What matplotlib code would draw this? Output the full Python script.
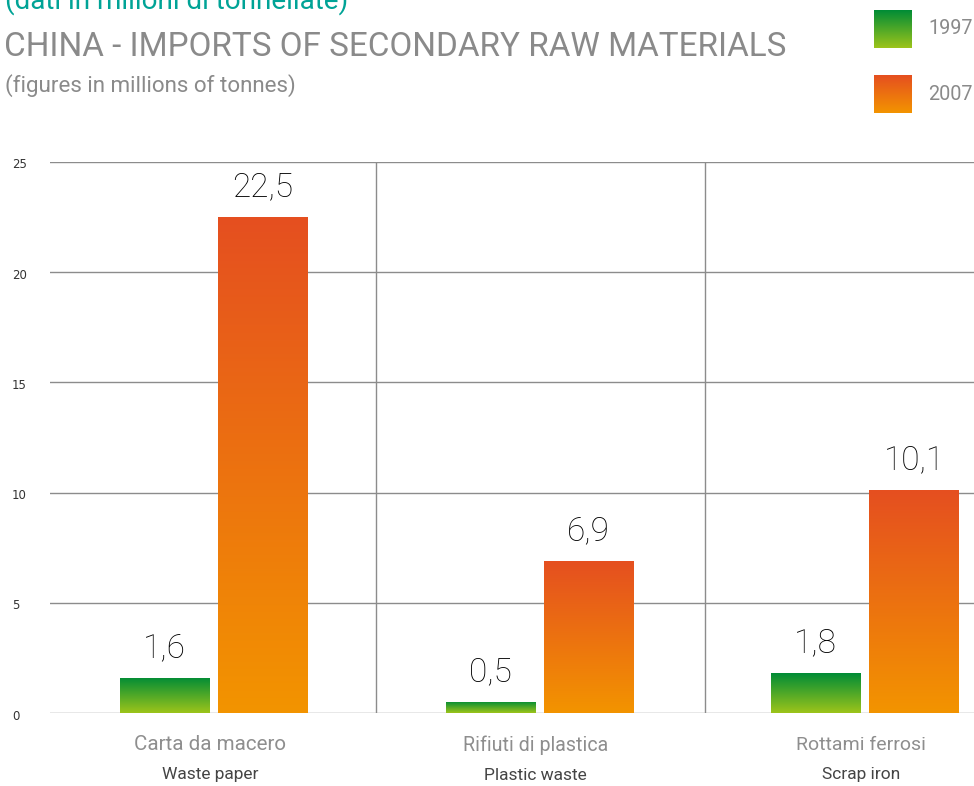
import numpy as np
import matplotlib
matplotlib.use("Agg")
import matplotlib.pyplot as plt
from matplotlib.colors import LinearSegmentedColormap

# Data (millions of tonnes)
categories_it = ["Carta da macero", "Rifiuti di plastica", "Rottami ferrosi"]
categories_en = ["Waste paper", "Plastic waste", "Scrap iron"]
years = ["1997", "2007"]
values_1997 = [1.6, 0.5, 1.8]
values_2007 = [22.5, 6.9, 10.1]
y_ticks = [0, 5, 10, 15, 20, 25]

SANS = ["Roboto", "DejaVu Sans"]

green_cmap = LinearSegmentedColormap.from_list("g", ["#9dc41a", "#008c36"])
orange_cmap = LinearSegmentedColormap.from_list("o", ["#f39400", "#e54f20"])
gradient = np.linspace(0, 1, 256).reshape(-1, 1)

W, H = 974, 786
fig = plt.figure(figsize=(W / 100, H / 100), dpi=100)
renderer = fig.canvas.get_renderer()
ax = fig.add_axes([50 / W, 1 - 713 / H, 1 - 50 / W, (713 - 162) / H])


def fit_width(txt, target_px):
    """Scale a text's font size so that its rendered width is target_px."""
    w = txt.get_window_extent(renderer=renderer).width
    txt.set_fontsize(txt.get_fontsize() * target_px / w)
    return txt


x = np.arange(len(categories_it))
width = 0.274
offset = 0.151


def gradient_bars(xpos, vals, cmap):
    bars = ax.bar(xpos, vals, width=width, color="none", edgecolor="none", zorder=3)
    for b in bars:
        x0, y0 = b.get_x(), b.get_y()
        im = ax.imshow(gradient, cmap=cmap, origin="lower", aspect="auto",
                       extent=[x0, x0 + b.get_width(), y0, y0 + b.get_height()],
                       zorder=3, interpolation="bilinear")
        im.set_clip_path(b)
    return bars


gradient_bars(x - offset, values_1997, green_cmap)
gradient_bars(x + offset, values_2007, orange_cmap)

ax.set_xlim(-0.503, 2.335)
ax.set_ylim(0, 25)

for xi, v in list(zip(x - offset, values_1997)) + list(zip(x + offset, values_2007)):
    ax.annotate(f"{v:.1f}".replace(".", ","), (xi, v), xytext=(0, 30),
                textcoords="offset pixels", ha="center", va="center",
                fontsize=24, color="#000000", family=SANS, weight="light")

for t in y_ticks:
    ax.axhline(t, color="#8c8c8c", lw=1.0, zorder=1)
for sep in [0.497, 1.510]:
    ax.axvline(sep, color="#8c8c8c", lw=1.0, zorder=1)

for s in ax.spines.values():
    s.set_visible(False)
ax.set_xticks([])
ax.set_yticks([])

# y tick labels
for t in y_ticks:
    ax.annotate(str(t), (0, t), xycoords=("figure pixels", "data"),
                xytext=(12, -3), textcoords="offset pixels",
                ha="left", va="center", fontsize=8.5, color="#333333",
                family=["DejaVu Sans"])

# category labels
it_widths = [152, 146, 130]
for xi, it, en, wi in zip(x, categories_it, categories_en, it_widths):
    a = ax.annotate(it, (xi, 0), xytext=(-4, -32), textcoords="offset pixels",
                    ha="center", va="center", fontsize=14, color="#8e8e8e",
                    family=SANS, annotation_clip=False)
    fit_width(a, wi)
    ax.annotate(en, (xi, 0), xytext=(-4, -62), textcoords="offset pixels",
                ha="center", va="center", fontsize=12.5, color="#444444",
                family=SANS, annotation_clip=False)

# headings
t1 = fig.text(5 / W, 1 - 1 / H, "(dati in milioni di tonnellate)", fontsize=17,
              color="#00a396", ha="left", va="center", family=SANS)
fit_width(t1, 345)
t2 = fig.text(4 / W, 1 - 47 / H, "CHINA - IMPORTS OF SECONDARY RAW MATERIALS",
              fontsize=26, color="#8a8a8a", ha="left", va="center", family=SANS)
fit_width(t2, 782)
t3 = fig.text(5 / W, 1 - 86 / H, "(figures in millions of tonnes)", fontsize=16,
              color="#8a8a8a", ha="left", va="center", family=SANS)
fit_width(t3, 292)

# legend
for (yc, cmap, label) in [(29, green_cmap, years[0]), (94, orange_cmap, years[1])]:
    lax = fig.add_axes([874 / W, 1 - (yc + 19) / H, 38 / W, 38 / H])
    lax.imshow(gradient, cmap=cmap, origin="lower", aspect="auto")
    lax.axis("off")
    lt = fig.text(928 / W, 1 - yc / H, label, fontsize=14, color="#8a8a8a",
                  ha="left", va="center", family=SANS)
    fit_width(lt, 45)

fig.savefig("out.png", dpi=100)
